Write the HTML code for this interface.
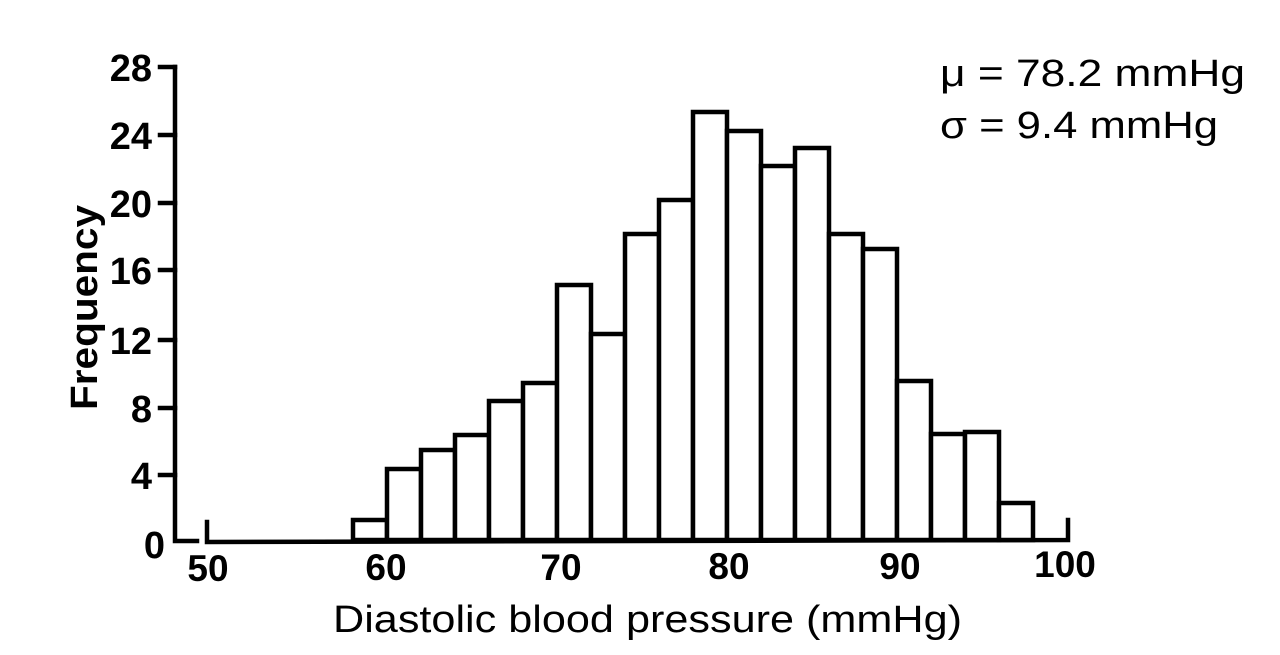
<!DOCTYPE html>
<html><head><style>body{margin:0;background:#fff}svg{display:block}</style></head>
<body>
<svg width="1280" height="655" xmlns="http://www.w3.org/2000/svg" font-family="Liberation Sans, sans-serif">
<rect width="1280" height="655" fill="#fff"/>
<g stroke="#000" stroke-width="4.5" fill="none" stroke-linecap="square">
<polyline points="175,67 175,541 197,541"/>
<line x1="175" y1="67" x2="160" y2="67"/>
<line x1="175" y1="135" x2="160" y2="135"/>
<line x1="175" y1="203" x2="160" y2="203"/>
<line x1="175" y1="270" x2="160" y2="270"/>
<line x1="175" y1="340" x2="160" y2="340"/>
<line x1="175" y1="408" x2="160" y2="408"/>
<line x1="175" y1="475" x2="160" y2="475"/>
<polyline points="207,522 207,542 1068,540 1068,520"/>
<g fill="#fff">
<rect x="353" y="520" width="34" height="20"/>
<rect x="387" y="469" width="34" height="71"/>
<rect x="421" y="450" width="34" height="90"/>
<rect x="455" y="435" width="34" height="105"/>
<rect x="489" y="401" width="34" height="139"/>
<rect x="523" y="383" width="34" height="157"/>
<rect x="557" y="285" width="34" height="255"/>
<rect x="591" y="334" width="34" height="206"/>
<rect x="625" y="234" width="34" height="306"/>
<rect x="659" y="200" width="34" height="340"/>
<rect x="693" y="112" width="34" height="428"/>
<rect x="727" y="131" width="34" height="409"/>
<rect x="761" y="166" width="34" height="374"/>
<rect x="795" y="148" width="34" height="392"/>
<rect x="829" y="234" width="34" height="306"/>
<rect x="863" y="249" width="34" height="291"/>
<rect x="897" y="381" width="34" height="159"/>
<rect x="931" y="434" width="34" height="106"/>
<rect x="965" y="432" width="34" height="108"/>
<rect x="999" y="503" width="34" height="37"/>
</g>
</g>
<g font-size="38" font-weight="bold" text-anchor="end">
<text x="152" y="81">28</text>
<text x="152" y="149">24</text>
<text x="152" y="217">20</text>
<text x="152" y="284">16</text>
<text x="152" y="354">12</text>
<text x="152" y="422">8</text>
<text x="152" y="489">4</text>
<text x="165" y="558">0</text>
</g>
<g font-size="37" font-weight="bold" text-anchor="middle">
<text x="208" y="581">50</text>
<text x="386" y="580">60</text>
<text x="561" y="580">70</text>
<text x="729" y="579">80</text>
<text x="900" y="579">90</text>
<text x="1065" y="577">100</text>
</g>
<text x="333" y="632" font-size="38" textLength="629" lengthAdjust="spacingAndGlyphs">Diastolic blood pressure (mmHg)</text>
<text transform="translate(97,410) rotate(-90)" font-size="38" font-weight="bold" textLength="205" lengthAdjust="spacingAndGlyphs">Frequency</text>
<g font-size="38">
<text x="940" y="86" textLength="305" lengthAdjust="spacingAndGlyphs">μ = 78.2 mmHg</text>
<text x="940" y="138" textLength="278" lengthAdjust="spacingAndGlyphs">σ = 9.4 mmHg</text>
</g>
</svg>
</body></html>
